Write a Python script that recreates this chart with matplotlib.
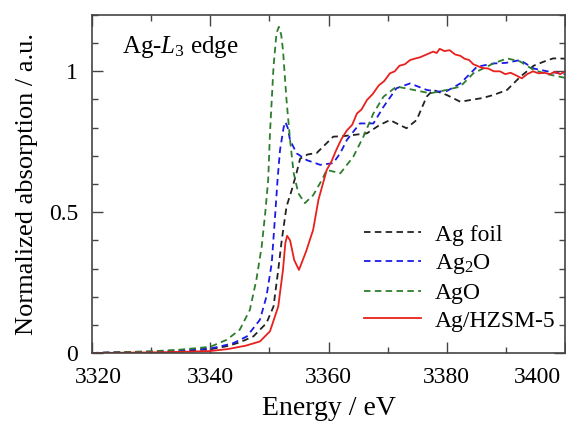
import matplotlib
matplotlib.use("Agg")
import matplotlib.pyplot as plt
from matplotlib.ticker import MultipleLocator
from matplotlib.transforms import ScaledTranslation

plt.rcParams['font.family'] = ['Liberation Serif', 'DejaVu Serif']
plt.rcParams['mathtext.fontset'] = 'custom'
plt.rcParams['mathtext.rm'] = 'Liberation Serif'
plt.rcParams['mathtext.it'] = 'Liberation Serif:italic'

# ---- data ----
foil_E = [3320, 3325, 3330, 3335, 3340, 3343, 3345, 3347.3, 3349.5, 3350.7, 3351.5, 3352.1, 3352.9,
          3353.8, 3354.6, 3355.2, 3356.5, 3358, 3360.8, 3362.5, 3364.2, 3366.5, 3368.7, 3370.4, 3372,
          3373.2, 3374.9, 3376.6, 3377.7, 3380, 3382.3, 3384.5, 3386, 3387.9, 3390.2, 3392.4, 3394.7,
          3396.5, 3398, 3400]
foil_v = [0.0, 0.002, 0.004, 0.007, 0.013, 0.025, 0.038, 0.059, 0.106, 0.165, 0.295, 0.402, 0.52,
          0.58, 0.64, 0.69, 0.705, 0.71, 0.768, 0.77, 0.774, 0.78, 0.81, 0.827, 0.81,
          0.798, 0.827, 0.91, 0.934, 0.916, 0.892, 0.90, 0.905, 0.916, 0.934, 0.98, 1.02,
          1.035, 1.046, 1.045]

ag2o_E = [3320, 3325, 3330, 3335, 3340, 3342, 3343.9, 3346.2, 3348.4, 3349.5, 3350.4, 3351.0, 3351.4,
          3351.8, 3352.4, 3352.7, 3353.1, 3353.5, 3354.6, 3356.3, 3358.6, 3360.8, 3362, 3363.1, 3365.3,
          3367.6, 3369.3, 3371.5, 3373.8, 3376.6, 3378.5, 3380, 3382.3, 3385.1, 3387.9, 3390,
          3392.4, 3394.7, 3397, 3400]
ag2o_v = [0.0, 0.003, 0.005, 0.009, 0.016, 0.025, 0.035, 0.059, 0.118, 0.2, 0.319, 0.497, 0.62,
          0.72, 0.80, 0.82, 0.80, 0.756, 0.709, 0.685, 0.668, 0.674, 0.71, 0.756, 0.815,
          0.815, 0.874, 0.94, 0.957, 0.934, 0.928, 0.93, 0.957, 1.016, 1.028, 1.03,
          1.04, 1.01, 1.0, 0.99]

ago_E = [3320, 3325, 3330, 3335, 3340, 3342.8, 3345, 3346.7, 3347.8, 3348.7, 3349.3, 3349.8, 3350.1,
         3350.7, 3351.2, 3351.6, 3352.0, 3352.3, 3352.9, 3353.5, 3354.1, 3354.9, 3356.0, 3357.4,
         3358.9, 3359.7, 3362.0, 3364.2, 3365.9, 3367.6, 3369.3, 3371.5, 3374.4, 3377.2, 3380,
         3382.3, 3384.5, 3387.9, 3390.2, 3392.4, 3394.7, 3397, 3400]
ago_v = [0.0, 0.003, 0.006, 0.012, 0.022, 0.047, 0.083, 0.153, 0.26, 0.378, 0.497, 0.615, 0.78,
         1.016, 1.135, 1.158, 1.13, 1.076, 0.898, 0.756, 0.64, 0.567, 0.532, 0.56,
         0.615, 0.65, 0.638, 0.697, 0.768, 0.851, 0.91, 0.946, 0.934, 0.922, 0.934,
         0.946, 0.993, 1.028, 1.046, 1.035, 1.005, 0.99, 0.977]

hzsm_E = [3320, 3325, 3330, 3335, 3340, 3343, 3346, 3348.4, 3350.1, 3351.5, 3352.3, 3352.7, 3353.0,
          3353.5, 3354.2, 3355.0, 3356.2, 3357.4, 3358.3, 3359.7, 3360.5, 3361.3, 3362.2, 3363.1,
          3364.0, 3364.8, 3365.6, 3366.5, 3367.5, 3368.5, 3369.4, 3370.4, 3371.2, 3372, 3372.9,
          3373.8, 3374.6, 3375.5, 3376.6, 3377.7, 3378.3, 3378.8, 3379.6, 3380.5, 3381.4, 3382.3,
          3383.0, 3383.8, 3384.5, 3385.1, 3386, 3387, 3388, 3389, 3389.9, 3390.8, 3391.8, 3392.7,
          3393.6, 3394.6, 3395.5, 3396.5, 3397.4, 3398.3, 3399.2, 3400]
hzsm_v = [0.0, 0.001, 0.002, 0.004, 0.007, 0.014, 0.026, 0.041, 0.077, 0.165, 0.295, 0.39, 0.416,
          0.40, 0.33, 0.295, 0.36, 0.437, 0.544, 0.65, 0.68, 0.72, 0.76, 0.79,
          0.81, 0.85, 0.865, 0.898, 0.92, 0.95, 0.965, 0.993, 1.0, 1.02, 1.025,
          1.04, 1.045, 1.05, 1.06, 1.07, 1.065, 1.08, 1.072, 1.075, 1.06, 1.055,
          1.045, 1.04, 1.025, 1.02, 1.012, 1.01, 1.0, 1.0, 0.99, 0.995, 0.985, 0.975,
          0.99, 1.0, 0.993, 0.995, 0.99, 0.998, 0.99, 1.0]

labels = ['Ag foil', 'Ag$_2$O', 'AgO', 'Ag/HZSM-5']
colors = ['#222222', '#1a1ae6', '#2e7d2e', '#e8201e']

fig = plt.figure(figsize=(5.66, 4.21), dpi=100)
ax = fig.add_axes([92/566, 1-353/421, (565-92)/566, (353-15)/421])

dash = (0, (3.6, 2.4))
ax.plot(foil_E, foil_v, color=colors[0], lw=1.3, ls=dash, label=labels[0])
ax.plot(ag2o_E, ag2o_v, color=colors[1], lw=1.3, ls=dash, label=labels[1])
ax.plot(ago_E, ago_v, color=colors[2], lw=1.3, ls=dash, label=labels[2])
ax.plot(hzsm_E, hzsm_v, color=colors[3], lw=1.3, ls='-', label=labels[3])

ax.set_xlim(3320, 3400)
ax.set_ylim(0, 1.2)
ax.xaxis.set_major_locator(MultipleLocator(20))
ax.xaxis.set_minor_locator(MultipleLocator(10))
ax.set_yticks([0, 0.5, 1])
ax.set_yticklabels(['0', '0.5', '1'])
ax.yaxis.set_minor_locator(MultipleLocator(0.1))
ax.tick_params(which='both', direction='in', top=True, right=True, labelsize=17,
               color='#444444', width=1.0)
ax.tick_params(which='major', length=8)
ax.tick_params(which='minor', length=4)
ax.tick_params(axis='y', pad=10)
ax.tick_params(axis='x', pad=10)
for s in ax.spines.values():
    s.set_linewidth(1.2)
    s.set_color('#444444')

fig.canvas.draw()
for t in ax.get_xticklabels():
    if t.get_text() == '3400':
        t.set_transform(t.get_transform() + ScaledTranslation(-28/100, 0, fig.dpi_scale_trans))
    if t.get_text() == '3320':
        t.set_transform(t.get_transform() + ScaledTranslation(6/100, 0, fig.dpi_scale_trans))

ax.set_xlabel('Energy / eV', fontsize=20, labelpad=6)
ax.set_ylabel('Normalized absorption / a.u.', fontsize=19, labelpad=8)

ax.text(0.063, 0.905, r'Ag-$\mathit{L}_\mathit{3}$ edge', transform=ax.transAxes,
        fontsize=18, va='center', ha='left')

leg = ax.legend(loc='lower right', bbox_to_anchor=(1.0, 0.035), frameon=False, fontsize=17,
                handlelength=2.4, handletextpad=0.6, labelspacing=0.27, borderaxespad=0.0)

fig.savefig('out.png', dpi=100)
